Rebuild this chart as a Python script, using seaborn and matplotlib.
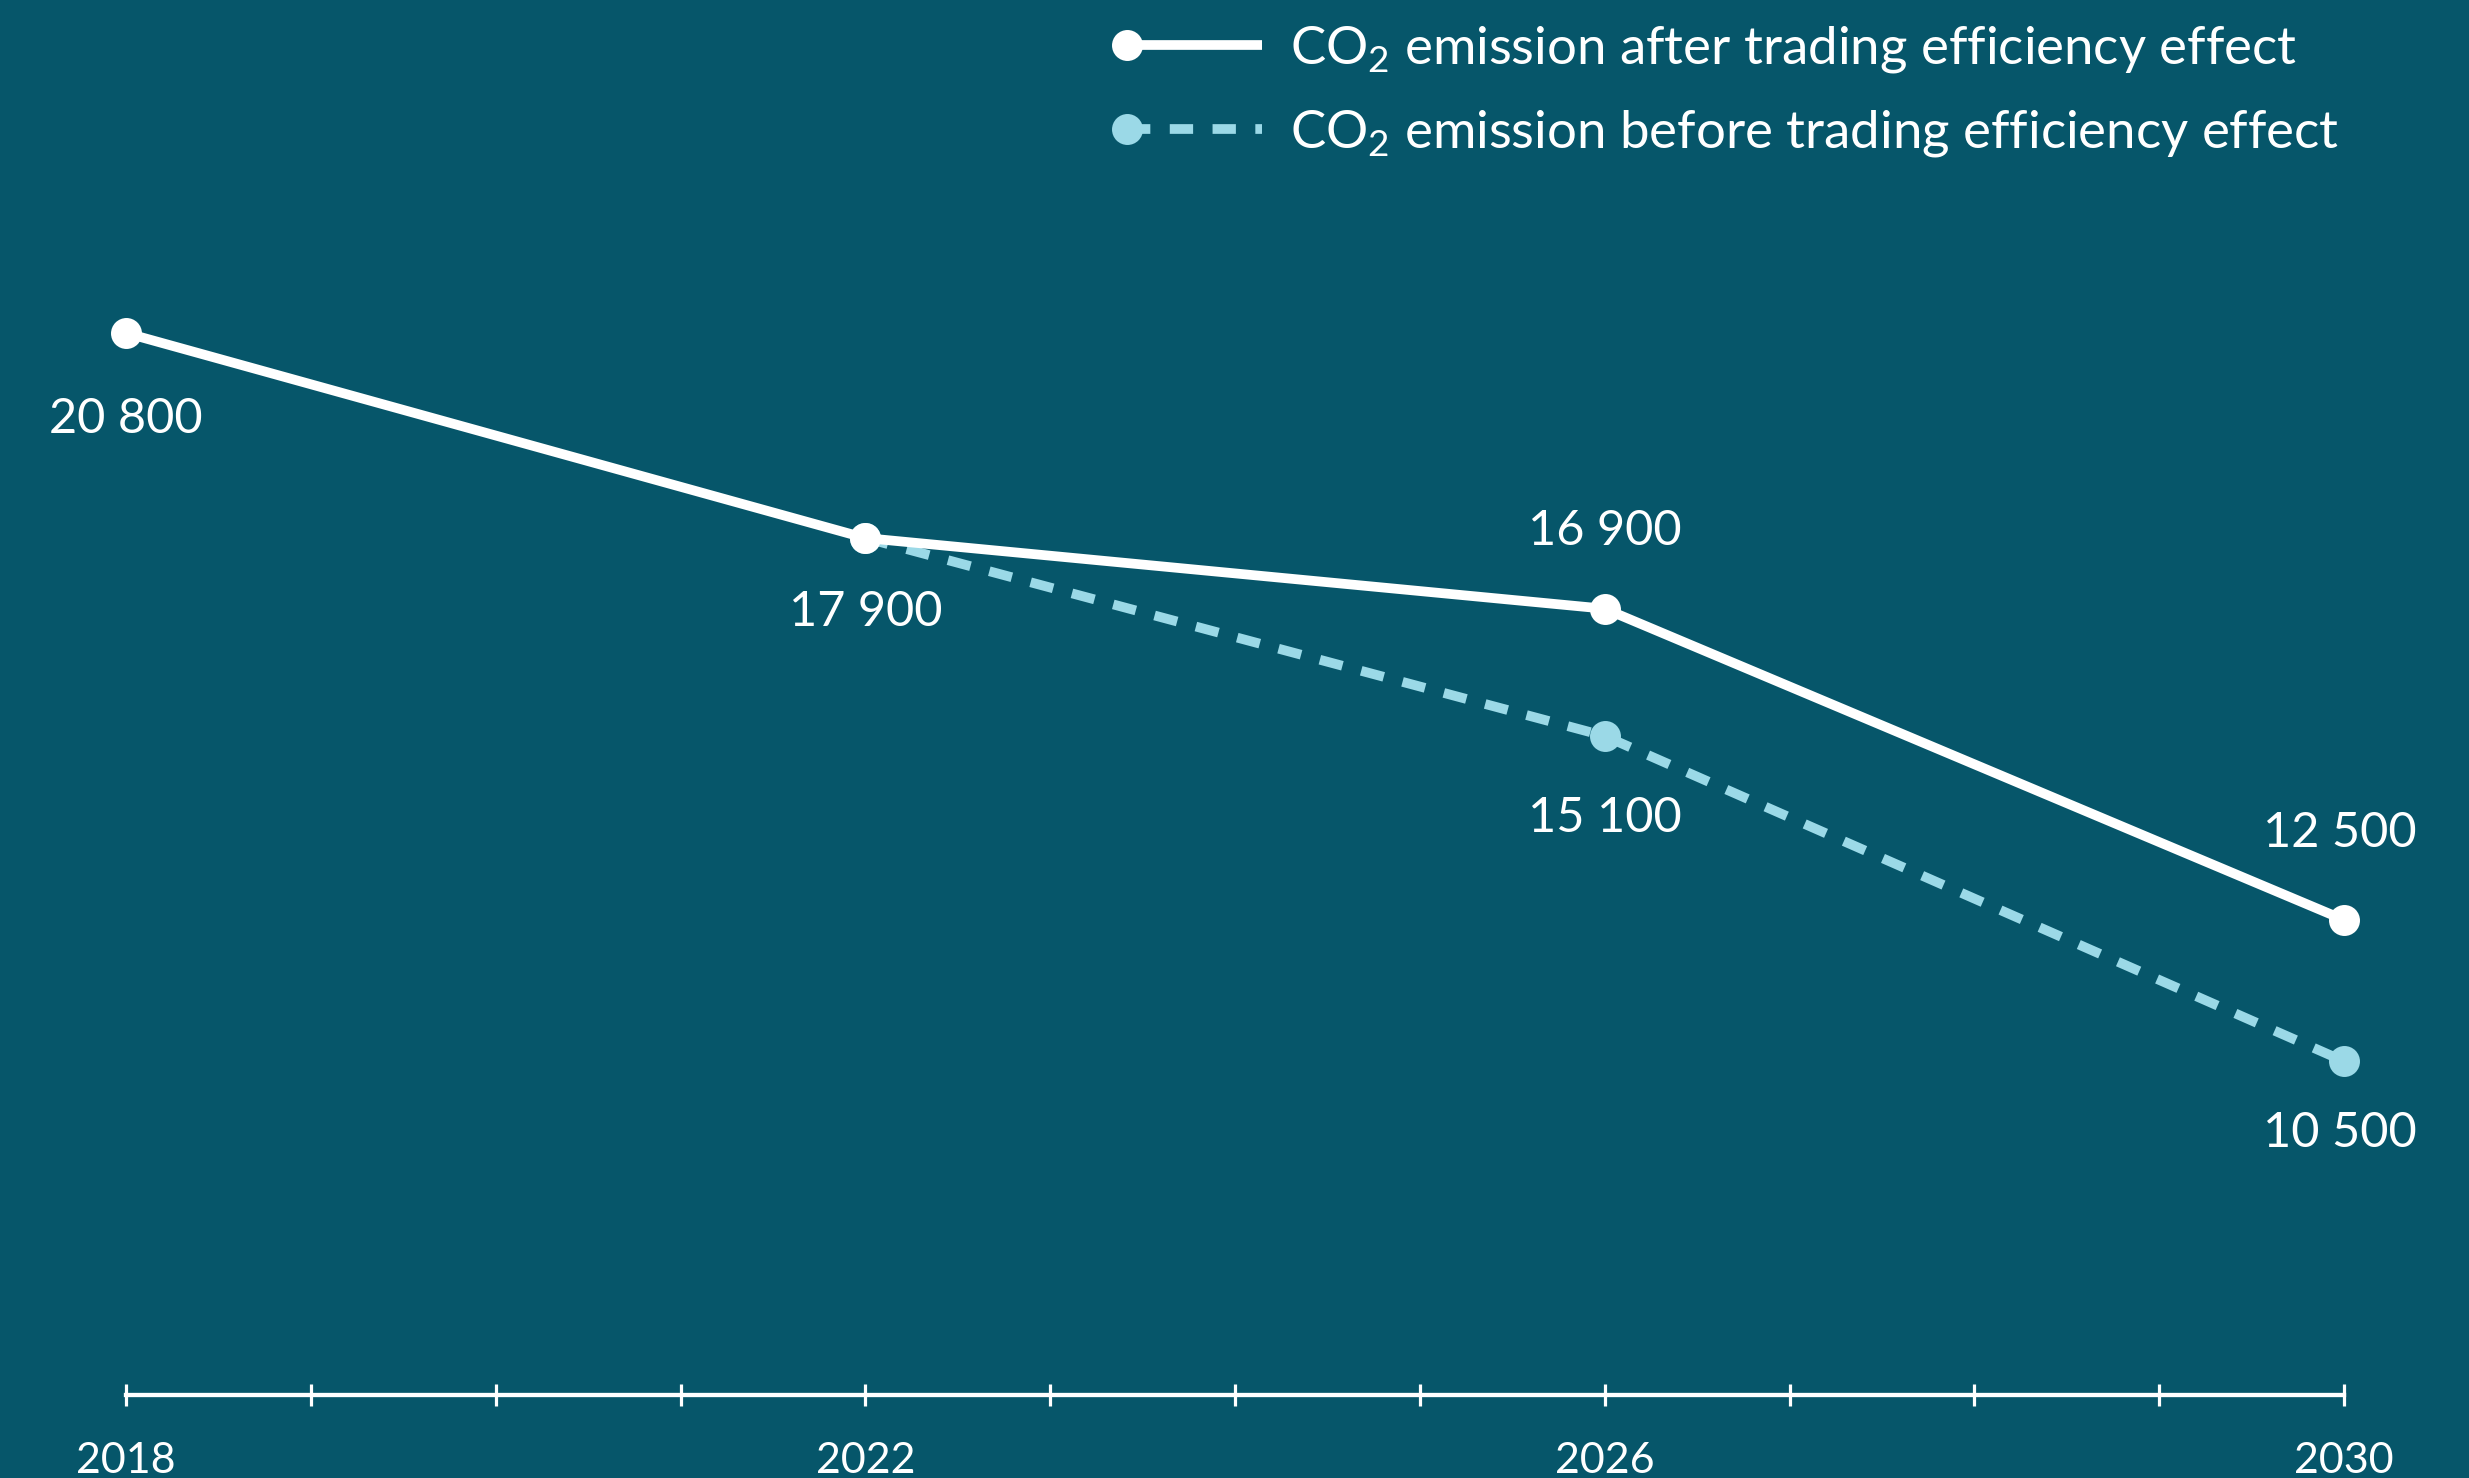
import numpy as np
import pandas as pd
import matplotlib
matplotlib.use("Agg")
import matplotlib.pyplot as plt
import seaborn as sns
from matplotlib.lines import Line2D
from matplotlib.legend_handler import HandlerLine2D

# ---------------- data ----------------
years_after = [2018, 2022, 2026, 2030]
co2_after = [20800, 17900, 16900, 12500]
years_before = [2022, 2026, 2030]
co2_before = [17900, 15100, 10500]
tick_years = [2018, 2022, 2026, 2030]
all_years = list(range(2018, 2031))
label_after = "CO$_2$ emission after trading efficiency effect"
label_before = "CO$_2$ emission before trading efficiency effect"

# ---------------- style ----------------
BG = "#06566a"
WHITE = "#ffffff"
LIGHT = "#9bd9e7"

sns.set_theme(style="white")
plt.rcParams["font.family"] = ["Lato", "DejaVu Sans"]
plt.rcParams["mathtext.fontset"] = "custom"
plt.rcParams["mathtext.rm"] = "Lato"
plt.rcParams["mathtext.default"] = "regular"

W, H = 2469, 1478
DPI = 100
PX = 72.0 / DPI  # points per pixel

fig = plt.figure(figsize=(W / DPI, H / DPI), dpi=DPI, facecolor=BG)
ax_bottom_px = 1395
ax = fig.add_axes([126 / W, (H - ax_bottom_px) / H, (2344 - 126) / W, ax_bottom_px / H])
ax.set_facecolor(BG)

df_after = pd.DataFrame({"year": years_after, "co2": co2_after})
df_before = pd.DataFrame({"year": years_before, "co2": co2_before})

line_kw = dict(linewidth=7, marker="o", markersize=22.3, markeredgewidth=0,
               clip_on=False, ax=ax)
sns.lineplot(data=df_before, x="year", y="co2", color=LIGHT,
             linestyle=(0, (2.4, 2.0)), dash_capstyle="butt",
             zorder=2, label=label_before, **line_kw)
sns.lineplot(data=df_after, x="year", y="co2", color=WHITE,
             zorder=3, label=label_after, solid_capstyle="butt", **line_kw)

ax.set_xlim(2018, 2030)
ax.set_ylim(5779, 25510)
ax.set_xlabel("")
ax.set_ylabel("")
ax.set_yticks([])

ax.set_xticks(tick_years)
ax.set_xticklabels([str(y) for y in tick_years])
ax.set_xticks(all_years, minor=True)
ax.tick_params(axis="x", which="both", direction="inout", length=22 * PX,
               width=2.3, color=WHITE, bottom=True)
ax.tick_params(axis="x", which="major", labelsize=31, labelcolor=WHITE, pad=26)

for s in ["left", "top", "right"]:
    ax.spines[s].set_visible(False)
ax.spines["bottom"].set_color(WHITE)
ax.spines["bottom"].set_linewidth(3.1)

# ---------------- value labels ----------------
label_size = 35
digit_h_px = 0.7165 * label_size / PX
after_offsets = [-83, -71, 81, 90]     # +: above, -: below (px, centre to centre)
before_offsets = [None, -79, -68]

def put_label(x, v, off):
    dy = (off - digit_h_px / 2) * PX
    ax.annotate(f"{v:,}".replace(",", " "), xy=(x, v), xytext=(-3 if x == 2030 else 0, dy),
                textcoords="offset points", ha="center", va="baseline",
                fontsize=label_size, color=WHITE, annotation_clip=False)

for x, v, off in zip(years_after, co2_after, after_offsets):
    put_label(x, v, off)
for x, v, off in zip(years_before, co2_before, before_offsets):
    if off is not None:
        put_label(x, v, off)

# ---------------- legend ----------------
class LeftMarkerHandler(HandlerLine2D):
    def create_artists(self, legend, orig_handle, xdescent, ydescent,
                       width, height, fontsize, trans):
        xdata = np.array([-xdescent, -xdescent + width], float)
        ydata = np.full_like(xdata, (height - ydescent) / 2)
        legline = Line2D(xdata, ydata)
        self.update_prop(legline, orig_handle, legend)
        legline.set_markevery([0])
        legline.set_transform(trans)
        return [legline]

handles, labels = ax.get_legend_handles_labels()
order = [labels.index(label_after), labels.index(label_before)]
handles = [handles[i] for i in order]
labels = [labels[i] for i in order]
if ax.get_legend() is not None:
    ax.get_legend().remove()

leg_fs = 38
fs_px = leg_fs / PX
leg = fig.legend(handles, labels, handler_map={Line2D: LeftMarkerHandler()},
                 loc="upper left", bbox_to_anchor=(1127 / W, 1 - 24 / H),
                 bbox_transform=fig.transFigure, frameon=False,
                 fontsize=leg_fs, labelcolor=WHITE,
                 handlelength=135 / fs_px, handletextpad=28 / fs_px,
                 labelspacing=0.62, borderpad=0, borderaxespad=0)

fig.savefig("out.png", dpi=DPI, facecolor=BG)
